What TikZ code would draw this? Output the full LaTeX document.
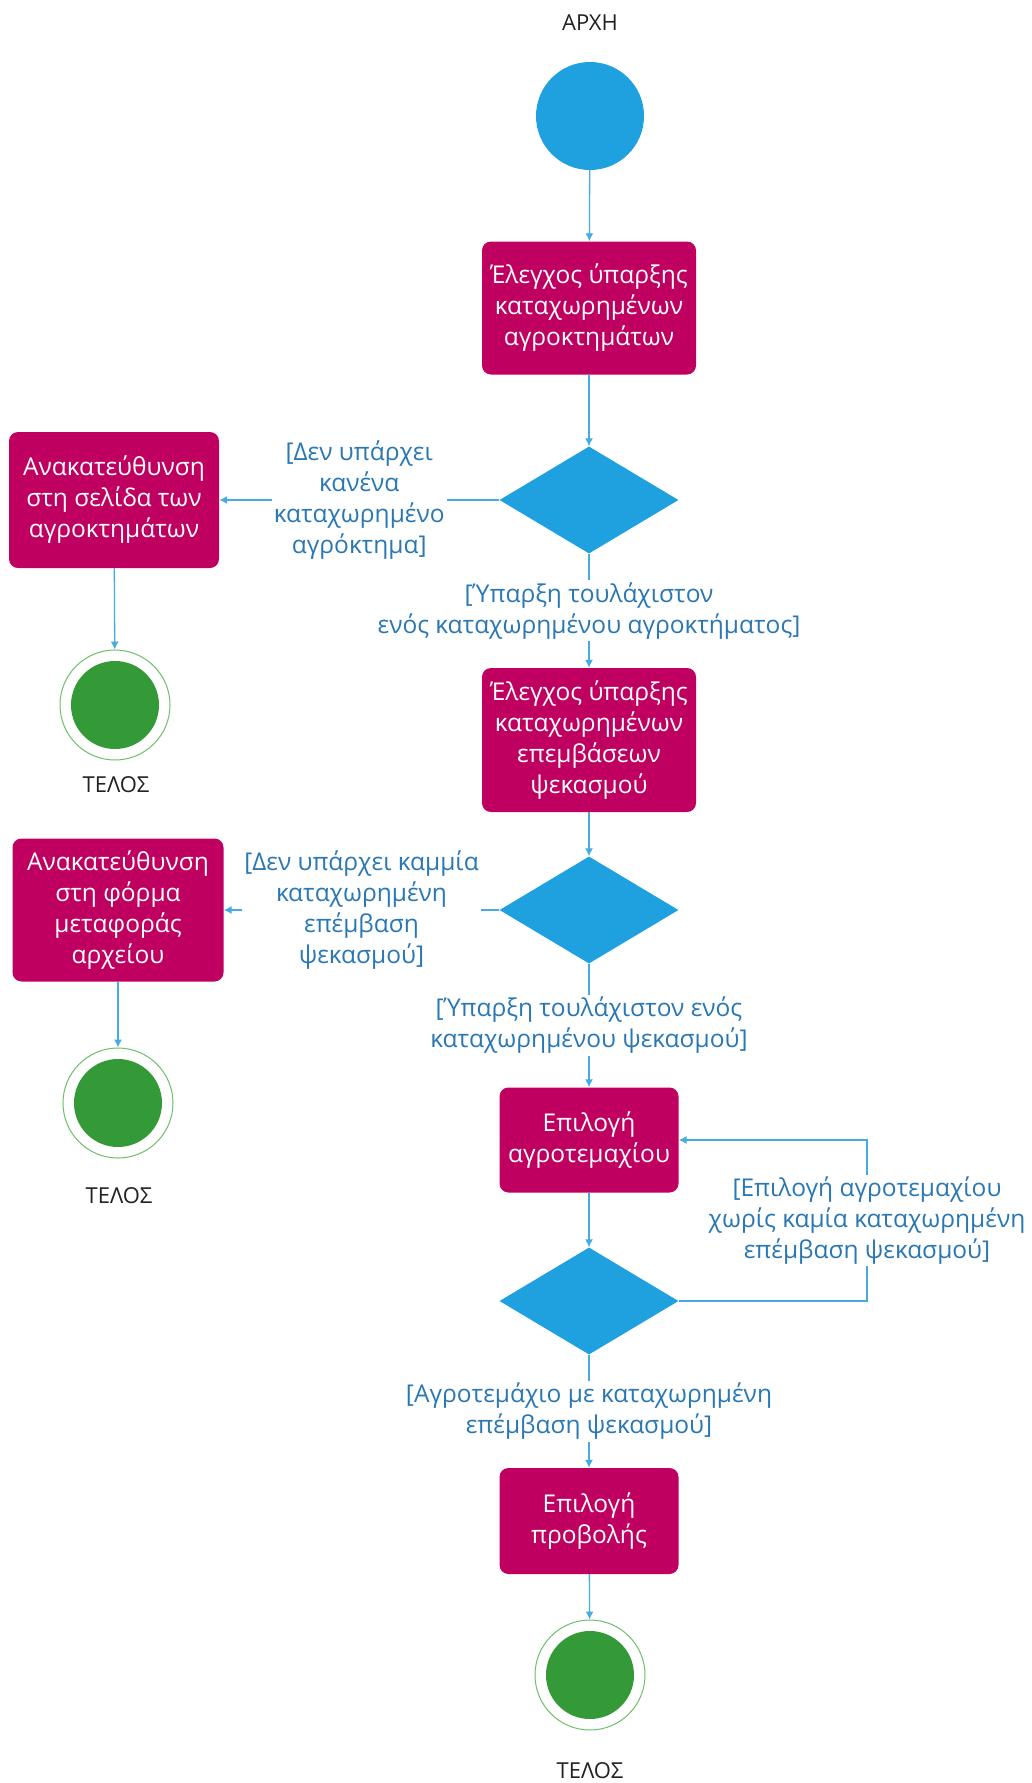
\documentclass[tikz,border=0pt]{standalone}
\usepackage{fontspec}
\setmainfont{Open Sans}
\usetikzlibrary{shapes.geometric,arrows.meta}

\definecolor{actfill}{HTML}{BF0060}
\definecolor{decfill}{HTML}{1FA1E0}
\definecolor{linecol}{HTML}{45ABE0}
\definecolor{guardcol}{HTML}{2A78B3}
\definecolor{endfill}{HTML}{349A37}
\definecolor{ringcol}{HTML}{6DBE6D}
\definecolor{termtext}{HTML}{222222}

\newcommand\actfont{\fontsize{24.5}{31}\selectfont}
\newcommand\termfont{\fontsize{22}{26}\selectfont}

\begin{document}
\begin{tikzpicture}[x=1pt,y=-1pt,
  action/.style={rectangle, rounded corners=9pt, fill=actfill, text=white,
    align=center, font=\actfont, inner sep=0pt},
  decision/.style={diamond, fill=decfill, minimum width=179pt,
    minimum height=107pt, inner sep=0pt},
  guard/.style={fill=white, text=guardcol, align=center, font=\actfont,
    inner sep=2pt},
  flow/.style={draw=linecol, line width=1.3pt, -{Latex[length=8pt,width=8pt]}},
  initial/.style={circle, fill=decfill, minimum size=108pt, inner sep=0pt},
  final/.style={circle, draw=ringcol, line width=1pt, fill=white,
    minimum size=110pt, inner sep=0pt,
    path picture={\fill[endfill] (path picture bounding box.center) circle (44pt);}},
  term/.style={text=termtext, font=\termfont, inner sep=0pt}]

\useasboundingbox (0,0) rectangle (1032,1783);

% start
\node[term] (startlbl) at (590,23) {ΑΡΧΗ};
\node[initial] (start) at (590,116) {};

% main column
\node[action, minimum width=214pt, minimum height=133pt] (b1) at (589,308)
  {Έλεγχος ύπαρξης\\καταχωρημένων\\αγροκτημάτων};
\node[decision] (d1) at (589,500) {};
\node[action, minimum width=214pt, minimum height=144pt] (b2) at (589,740)
  {Έλεγχος ύπαρξης\\καταχωρημένων\\επεμβάσεων\\ψεκασμού};
\node[decision] (d2) at (589,910) {};
\node[action, minimum width=179pt, minimum height=105pt] (b3) at (589,1140)
  {Επιλογή\\αγροτεμαχίου};
\node[decision] (d3) at (589,1301) {};
\node[action, minimum width=179pt, minimum height=106pt] (b4) at (589,1521)
  {Επιλογή\\προβολής};
\node[final] (e3) at (590,1675) {};
\node[term] (endlbl3) at (590,1771) {ΤΕΛΟΣ};

% left branches
\node[action, minimum width=210pt, minimum height=136pt] (l1) at (114,500)
  {Ανακατεύθυνση\\στη σελίδα των\\αγροκτημάτων};
\node[final] (e1) at (115,705) {};
\node[term] (endlbl1) at (116,785) {ΤΕΛΟΣ};

\node[action, minimum width=211pt, minimum height=143pt] (l2) at (118,910)
  {Ανακατεύθυνση\\στη φόρμα\\μεταφοράς\\αρχείου};
\node[final] (e2) at (118,1103) {};
\node[term] (endlbl2) at (119,1196) {ΤΕΛΟΣ};

% loop corners
\coordinate (lp1) at (867,1301);
\coordinate (lp2) at (867,1140);

% connectors
\draw[flow] (start) -- (b1);
\draw[flow] (b1) -- (d1);
\draw[flow] (d1.west) -- node[guard] {[Δεν υπάρχει\\κανένα\\καταχωρημένο\\αγρόκτημα]} (l1.east);
\draw[flow] (l1) -- (e1);
\draw[flow] (d1.south) -- node[guard] {[Ύπαρξη τουλάχιστον\\ενός καταχωρημένου αγροκτήματος]} (b2.north);
\draw[flow] (b2) -- (d2);
\draw[flow] (d2.west) -- node[guard] {[Δεν υπάρχει καμμία\\καταχωρημένη\\επέμβαση\\ψεκασμού]} (l2.east);
\draw[flow] (l2) -- (e2);
\draw[flow] (d2.south) -- node[guard] {[Ύπαρξη τουλάχιστον ενός\\καταχωρημένου ψεκασμού]} (b3.north);
\draw[flow] (b3) -- (d3);
\draw[flow] (d3.east) -- (lp1) -- node[guard] {[Επιλογή αγροτεμαχίου\\χωρίς καμία καταχωρημένη\\επέμβαση ψεκασμού]} (lp2) -- (b3.east);
\draw[flow] (d3.south) -- node[guard] {[Αγροτεμάχιο με καταχωρημένη\\επέμβαση ψεκασμού]} (b4.north);
\draw[flow] (b4) -- (e3);

\end{tikzpicture}
\end{document}
